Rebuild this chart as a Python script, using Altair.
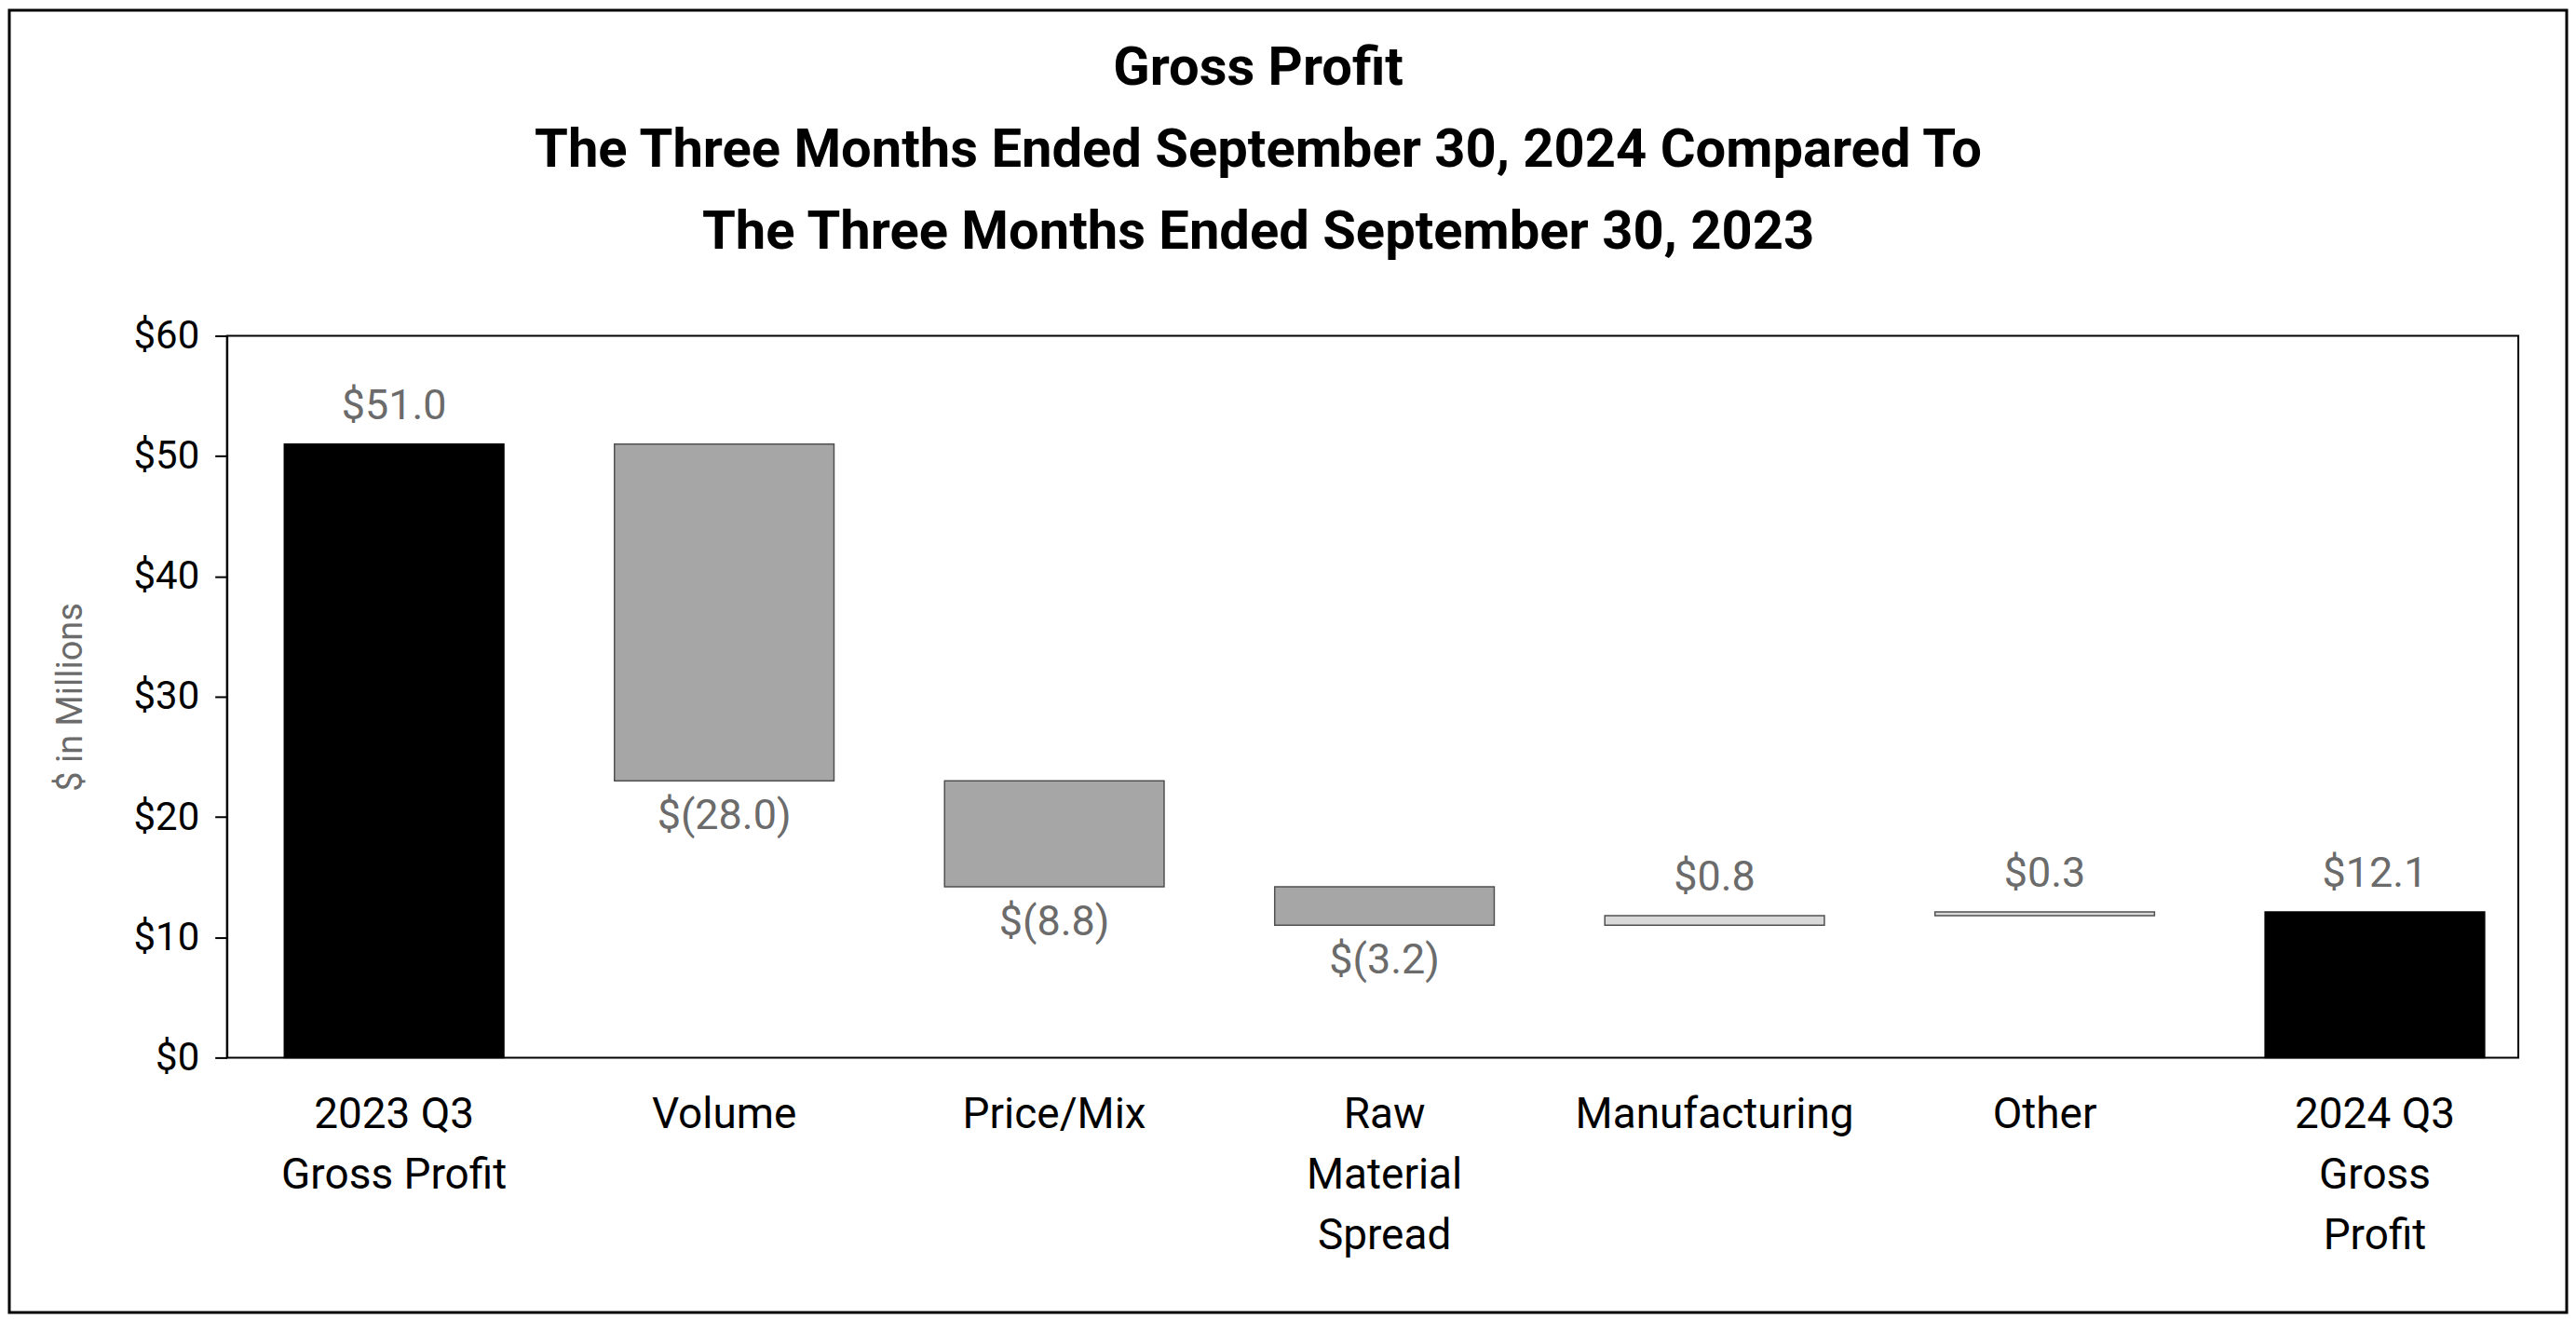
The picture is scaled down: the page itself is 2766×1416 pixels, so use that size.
import altair as alt
import pandas as pd

categories = ["2023 Q3|Gross Profit", "Volume", "Price/Mix", "Raw|Material|Spread",
              "Manufacturing", "Other", "2024 Q3|Gross|Profit"]
values = [51.0, -28.0, -8.8, -3.2, 0.8, 0.3, 12.1]
is_total = [True, False, False, False, False, False, True]
y_ticks = [0, 10, 20, 30, 40, 50, 60]
title_lines = ["Gross Profit",
               "The Three Months Ended September 30, 2024 Compared To",
               "The Three Months Ended September 30, 2023"]

rows = []
running = 0.0
for cat, v, tot in zip(categories, values, is_total):
    if tot:
        start, end = 0.0, v
        kind = "total"
        running = v
    else:
        start, end = running, running + v
        running = end
        kind = "decrease" if v < 0 else "increase"
    label = f"${v:.1f}" if v >= 0 else f"$({-v:.1f})"
    rows.append(dict(cat=cat, start=round(start, 2), end=round(end, 2), kind=kind,
                     top=max(start, end), bottom=min(start, end), label=label))
df = pd.DataFrame(rows)

FONT = "Roboto"

x_enc = alt.X("cat:N", sort=categories,
              scale=alt.Scale(paddingInner=0.335, paddingOuter=0.138, align=0.63),
              axis=alt.Axis(title=None, labelAngle=0, domain=False, ticks=False,
                            labelExpr="split(datum.label, '|')", labelLimit=0,
                            labelFontSize=46, labelColor="#000000", labelFont=FONT,
                            labelLineHeight=65, labelPadding=39, labelBaseline="top"))
y_scale = alt.Scale(domain=[0, 60], nice=False)

base = alt.Chart(df)

bars = base.mark_bar(strokeWidth=1.5).encode(
    x=x_enc,
    y=alt.Y("start:Q", scale=y_scale,
            axis=alt.Axis(values=y_ticks, format="$.0f", grid=False,
                          title="$ in Millions", titleFontSize=38, titleColor="#6b6b6b",
                          titleFontWeight="normal", titleFont=FONT, titlePadding=48,
                          labelFontSize=42, labelColor="#000000", labelFont=FONT,
                          labelPadding=17, tickSize=13, tickColor="#000000",
                          tickWidth=2, domainColor="#000000", domainWidth=2)),
    y2="end:Q",
    color=alt.Color("kind:N", legend=None,
                    scale=alt.Scale(domain=["total", "decrease", "increase"],
                                    range=["#000000", "#a6a6a6", "#d9d9d9"])),
    stroke=alt.Stroke("kind:N", legend=None,
                      scale=alt.Scale(domain=["total", "decrease", "increase"],
                                      range=["#000000", "#505050", "#505050"])),
)

above = base.transform_filter("datum.kind != 'decrease'").mark_text(
    baseline="bottom", dy=-18, fontSize=45, color="#6b6b6b", font=FONT
).encode(x=alt.X("cat:N", sort=categories), y=alt.Y("top:Q"), text="label:N")

below = base.transform_filter("datum.kind == 'decrease'").mark_text(
    baseline="top", dy=16, fontSize=45, color="#6b6b6b", font=FONT
).encode(x=alt.X("cat:N", sort=categories), y=alt.Y("bottom:Q"), text="label:N")

frame = alt.Chart(pd.DataFrame({"f": [0]})).mark_rect(
    fillOpacity=0, stroke="#000000", strokeWidth=3
).encode(x=alt.value(-234), x2=alt.value(2516), y=alt.value(-350), y2=alt.value(1050))

chart = alt.layer(frame, bars, above, below).properties(
    width=2464, height=776, padding=0,
    title=alt.TitleParams(text=title_lines, fontSize=58, fontWeight="bold", font=FONT,
                          lineHeight=88, anchor="middle", frame="bounds", dx=-32,
                          offset=-270, color="#000000"),
).configure(background="white").configure_view(stroke="#000000", strokeWidth=2)

chart.save("out.html", embed_options={"renderer": "svg", "actions": False})
